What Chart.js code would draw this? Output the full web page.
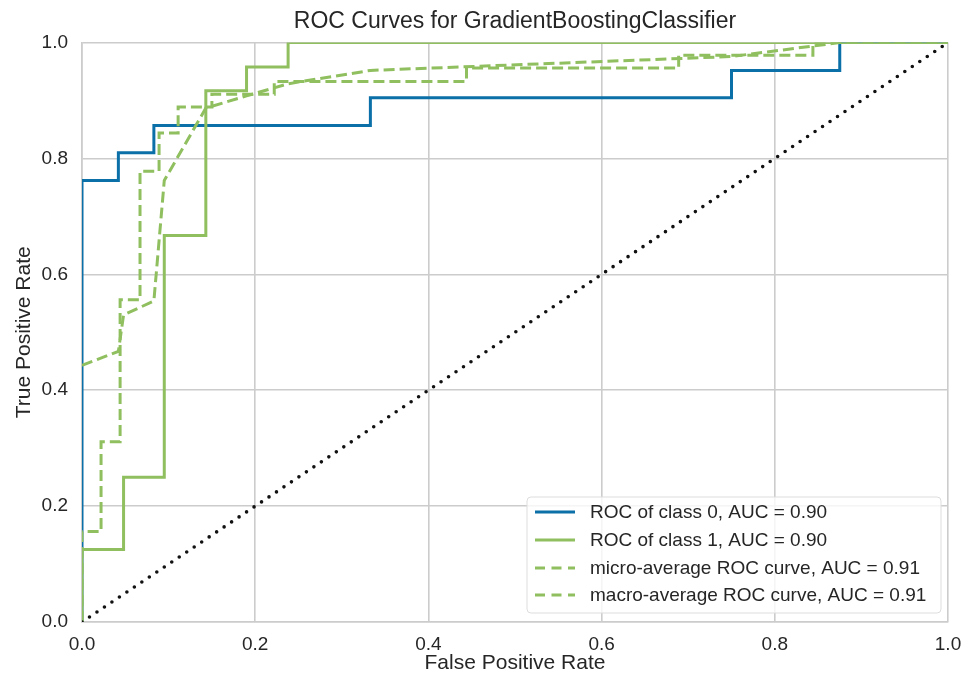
<!DOCTYPE html>
<html lang="en">

<head>
    <meta charset="UTF-8">
    <title>ROC Curves</title>
    <style>
        body { margin: 0; background: #fff; overflow: hidden; }
        #wrap { width: 976px; height: 681px; }
    </style>
</head>

<script src="https://cdn.jsdelivr.net/npm/chart.js"></script>

<body>
    <div id="wrap">
        <canvas id="RocChart"></canvas>
    </div>
</body>
<script>
    // ROC points (fpr / tpr pairs)
    const class0Fpr = [0, 0, 0.042, 0.042, 0.083, 0.083, 0.333, 0.333, 0.75, 0.75, 0.875, 0.875, 1];
    const class0Tpr = [0, 0.762, 0.762, 0.81, 0.81, 0.857, 0.857, 0.905, 0.905, 0.952, 0.952, 1, 1];

    const class1Fpr = [0, 0, 0.048, 0.048, 0.095, 0.095, 0.143, 0.143, 0.19, 0.19, 0.238, 0.238, 1];
    const class1Tpr = [0, 0.125, 0.125, 0.25, 0.25, 0.667, 0.667, 0.917, 0.917, 0.958, 0.958, 1, 1];

    const microFpr = [0, 0, 0.022, 0.022, 0.044, 0.044, 0.067, 0.067, 0.089, 0.089, 0.111, 0.111,
        0.15, 0.15, 0.222, 0.222, 0.444, 0.444, 0.689, 0.689, 0.844, 0.844, 1];
    const microTpr = [0, 0.156, 0.156, 0.311, 0.311, 0.556, 0.556, 0.778, 0.778, 0.844, 0.844, 0.889,
        0.889, 0.911, 0.911, 0.933, 0.933, 0.956, 0.956, 0.978, 0.978, 1, 1];

    const macroFpr = [0, 0.042, 0.048, 0.083, 0.095, 0.143, 0.19, 0.238, 0.333, 0.75, 0.875, 1];
    const macroTpr = [0.443, 0.467, 0.53, 0.554, 0.762, 0.887, 0.908, 0.929, 0.952, 0.976, 1, 1];

    const diagX = [0, 1];
    const diagY = [0, 1];

    const tickValues = [0, 0.2, 0.4, 0.6, 0.8, 1.0];

    const legendLabels = [
        'ROC of class 0, AUC = 0.90',
        'ROC of class 1, AUC = 0.90',
        'micro-average ROC curve, AUC = 0.91',
        'macro-average ROC curve, AUC = 0.91'
    ];

    const BLUE = '#0b6fa8';
    const GREEN = '#8fbf5e';

    function toPoints(xs, ys) {
        return xs.map((x, i) => ({ x: x, y: ys[i] }));
    }

    Chart.defaults.font.family = '"Liberation Sans", Arial, sans-serif';
    Chart.defaults.color = '#262626';

    // legend drawn inside the plot, bottom right
    const legendBox = {
        id: 'legendBox',
        afterDraw(chart) {
            const ctx = chart.ctx;
            const area = chart.chartArea;
            const w = 414, h = 116;
            const x = area.right - 7 - w;
            const y = area.bottom - 9 - h;
            ctx.save();
            ctx.beginPath();
            if (ctx.roundRect) ctx.roundRect(x, y, w, h, 4); else ctx.rect(x, y, w, h);
            ctx.fillStyle = 'rgba(255,255,255,0.8)';
            ctx.fill();
            ctx.strokeStyle = '#dddddd';
            ctx.lineWidth = 1;
            ctx.stroke();

            const styles = [
                { color: BLUE, dash: [] },
                { color: GREEN, dash: [] },
                { color: GREEN, dash: [10, 6.5] },
                { color: GREEN, dash: [10, 6.5] }
            ];
            const rows = [15, 43, 71, 98];
            ctx.font = '19px "Liberation Sans", Arial, sans-serif';
            ctx.textBaseline = 'middle';
            ctx.textAlign = 'left';
            legendLabels.forEach((label, i) => {
                const ry = y + rows[i];
                ctx.beginPath();
                ctx.setLineDash(styles[i].dash);
                ctx.strokeStyle = styles[i].color;
                ctx.lineWidth = 3;
                ctx.moveTo(x + 8, ry);
                ctx.lineTo(x + 48, ry);
                ctx.stroke();
                ctx.setLineDash([]);
                ctx.fillStyle = '#262626';
                ctx.fillText(label, x + 63, ry + 1);
            });
            ctx.restore();
        }
    };

    const data = {
        datasets: [
            {   // random guess line
                data: toPoints(diagX, diagY),
                borderColor: '#111111',
                borderWidth: 3.6,
                borderDash: [0, 9],
                borderCapStyle: 'round',
            },
            {
                label: legendLabels[3],
                data: toPoints(macroFpr, macroTpr),
                borderColor: GREEN,
                borderWidth: 3,
                borderDash: [11, 5],
            },
            {
                label: legendLabels[2],
                data: toPoints(microFpr, microTpr),
                borderColor: GREEN,
                borderWidth: 3,
                borderDash: [11, 5],
            },
            {
                label: legendLabels[1],
                data: toPoints(class1Fpr, class1Tpr),
                borderColor: GREEN,
                borderWidth: 3,
            },
            {
                label: legendLabels[0],
                data: toPoints(class0Fpr, class0Tpr),
                borderColor: BLUE,
                borderWidth: 3,
            }
        ]
    };

    const gridStyle = {
        color: '#cccccc',
        lineWidth: 1.6,
        drawTicks: false,
    };

    const config = {
        type: 'scatter',
        data: data,
        options: {
            responsive: true,
            maintainAspectRatio: false,
            animation: false,
            layout: { padding: { top: 0, right: 28, bottom: 0, left: 0 } },
            elements: {
                point: { radius: 0, hoverRadius: 0 },
                line: { tension: 0, fill: false }
            },
            datasets: { scatter: { showLine: true } },
            plugins: {
                legend: { display: false },
                tooltip: { enabled: false },
                title: {
                    display: true,
                    text: 'ROC Curves for GradientBoostingClassifier',
                    fullSize: false,
                    color: '#262626',
                    font: { size: 23, weight: 'normal' },
                    padding: { top: 8, bottom: 7 }
                }
            },
            scales: {
                x: {
                    type: 'linear',
                    min: 0,
                    max: 1,
                    afterBuildTicks: (axis) => { axis.ticks = tickValues.map(v => ({ value: v })); },
                    ticks: {
                        padding: 11,
                        font: { size: 19 },
                        color: '#262626',
                        maxRotation: 0,
                        callback: (v) => Number(v).toFixed(1)
                    },
                    grid: gridStyle,
                    border: { display: true, color: '#cccccc', width: 1.6 },
                    title: {
                        display: true,
                        text: 'False Positive Rate',
                        font: { size: 21 },
                        color: '#262626',
                        padding: { top: 0, bottom: 5 }
                    },
                    afterFit: (axis) => { axis.height = 59; }
                },
                y: {
                    type: 'linear',
                    min: 0,
                    max: 1,
                    afterBuildTicks: (axis) => { axis.ticks = tickValues.map(v => ({ value: v })); },
                    ticks: {
                        padding: 14,
                        font: { size: 19 },
                        color: '#262626',
                        callback: (v) => Number(v).toFixed(1)
                    },
                    grid: gridStyle,
                    border: { display: true, color: '#cccccc', width: 1.6 },
                    title: {
                        display: true,
                        text: 'True Positive Rate',
                        font: { size: 21 },
                        color: '#262626',
                        padding: { top: 12, bottom: 0 }
                    },
                    afterFit: (axis) => { axis.width = 82; }
                }
            }
        },
        plugins: [legendBox]
    };

    const rocChart = new Chart(document.getElementById('RocChart'), config);
</script>

</html>
